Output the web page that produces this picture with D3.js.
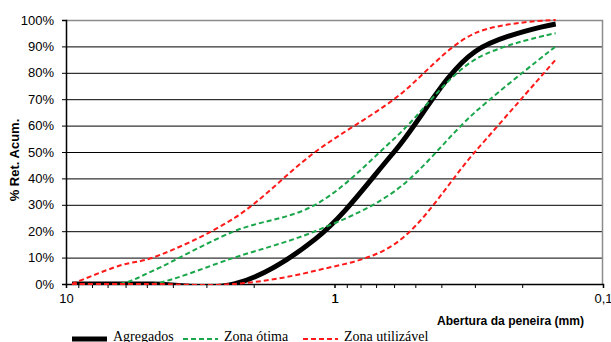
<!DOCTYPE html>
<html>
<head>
<meta charset="utf-8">
<script src="https://cdn.jsdelivr.net/npm/d3@7"></script>
<style>
  body { margin: 0; background: #fff; }
</style>
</head>
<body>
<div id="chart"></div>
<script>
// sieve openings (mm)
const sieves = [9.5, 6.3, 4.75, 2.36, 1.18, 0.6, 0.3, 0.15];

const agregados = [0, 0, 0, 0, 17, 50, 88, 98.5];
const otimaInferior = [0, 0, 0, 10, 20, 35, 65, 90];
const otimaSuperior = [0, 0, 5, 20, 30, 55, 85, 95];
const utilizavelInferior = [0, 0, 0, 0, 5, 15, 50, 85];
const utilizavelSuperior = [0, 7, 10, 25, 50, 70, 95, 100];

const yTicks = [0, 10, 20, 30, 40, 50, 60, 70, 80, 90, 100];
const xTickLabels = [10, 1, 0.1];

const width = 611;
const height = 342;

const svg = d3.select("#chart").append("svg")
    .attr("width", width)
    .attr("height", height)
    .style("font-family", "'Liberation Sans', Arial, sans-serif");

const x = d3.scaleLog().domain([10, 0.1]).range([66, 603]);
const y = d3.scaleLinear().domain([0, 100]).range([284, 20]);

// horizontal grid
svg.append("g")
    .selectAll("line")
    .data(yTicks.slice(1, -1))
    .join("line")
    .attr("x1", x(10))
    .attr("x2", x(0.1))
    .attr("y1", d => y(d) + 0.5)
    .attr("y2", d => y(d) + 0.5)
    .attr("stroke", "#000")
    .attr("stroke-width", 1);

// top and right border
svg.append("path")
    .attr("d", `M${x(10)},${y(100) + 0.5}H${x(0.1) - 0.5}V${y(0)}`)
    .attr("fill", "none")
    .attr("stroke", "#8c8c8c")
    .attr("stroke-width", 1.5);

// y axis
const yAxis = d3.axisLeft(y)
    .tickValues(yTicks)
    .tickSize(4)
    .tickFormat(d => d + "%");

svg.append("g")
    .attr("transform", `translate(${x(10)},0)`)
    .call(yAxis)
    .call(g => g.select(".domain").attr("stroke", "#000").attr("stroke-width", 1.5))
    .call(g => g.selectAll(".tick line").attr("stroke", "#000"))
    .call(g => g.selectAll(".tick text")
        .attr("x", -12)
        .attr("font-size", 13)
        .attr("fill", "#000")
        .style("font-family", "'Liberation Sans', Arial, sans-serif"));

// x axis with minor log ticks
const minorTicks = [];
[0.1, 1].forEach(dec => {
    for (let i = 1; i <= 10; i++) minorTicks.push(+(dec * i).toFixed(3));
});

const xAxis = d3.axisBottom(x)
    .tickValues(minorTicks)
    .tickSize(4)
    .tickFormat(d => xTickLabels.includes(d) ? String(d).replace(".", ",") : "");

svg.append("g")
    .attr("transform", `translate(0,${y(0)})`)
    .call(xAxis)
    .call(g => g.select(".domain").attr("stroke", "#000").attr("stroke-width", 1.5))
    .call(g => g.selectAll(".tick line").attr("stroke", "#000"))
    .call(g => g.selectAll(".tick text")
        .attr("y", 10)
        .attr("font-size", 13)
        .attr("fill", "#000")
        .style("font-family", "'Liberation Sans', Arial, sans-serif"));

// axis titles
svg.append("text")
    .attr("transform", `translate(19,160) rotate(-90)`)
    .attr("text-anchor", "middle")
    .attr("font-size", 13)
    .attr("font-weight", "bold")
    .text("% Ret. Acum.");

svg.append("text")
    .attr("x", 437)
    .attr("y", 325)
    .attr("font-size", 13.5)
    .attr("font-weight", "bold")
    .attr("textLength", 147)
    .attr("lengthAdjust", "spacingAndGlyphs")
    .text("Abertura da peneira (mm)");

// curves
svg.append("clipPath")
    .attr("id", "plot-clip")
    .append("rect")
    .attr("x", x(10))
    .attr("y", y(100) - 4)
    .attr("width", x(0.1) - x(10))
    .attr("height", y(0) - y(100) + 5);

const line = d3.line()
    .x(d => x(d[0]))
    .y(d => y(d[1]))
    .curve(d3.curveCatmullRom.alpha(0.5));

const series = [
    { values: agregados, color: "#000", width: 5, dash: null },
    { values: otimaInferior, color: "#1aa64a", width: 2, dash: "5,3" },
    { values: otimaSuperior, color: "#1aa64a", width: 2, dash: "5,3" },
    { values: utilizavelInferior, color: "#ff1a1a", width: 2, dash: "5,3" },
    { values: utilizavelSuperior, color: "#ff1a1a", width: 2, dash: "5,3" }
];

const curves = svg.append("g").attr("clip-path", "url(#plot-clip)");

series.forEach(s => {
    curves.append("path")
        .datum(sieves.map((d, i) => [d, s.values[i]]))
        .attr("d", line)
        .attr("fill", "none")
        .attr("stroke", s.color)
        .attr("stroke-width", s.width)
        .attr("stroke-dasharray", s.dash);
});

// legend
const legendItems = [
    { label: "Agregados", color: "#000", width: 5, dash: null, x: 72 },
    { label: "Zona ótima", color: "#1aa64a", width: 2, dash: "5,3", x: 183 },
    { label: "Zona utilizável", color: "#ff1a1a", width: 2, dash: "5,3", x: 303 }
];

const legend = svg.append("g");

legendItems.forEach(item => {
    legend.append("line")
        .attr("x1", item.x)
        .attr("x2", item.x + 35)
        .attr("y1", 339)
        .attr("y2", 339)
        .attr("stroke", item.color)
        .attr("stroke-width", item.width)
        .attr("stroke-dasharray", item.dash);

    legend.append("text")
        .attr("x", item.x + 41)
        .attr("y", 341)
        .attr("font-size", 14)
        .style("font-family", "'Liberation Serif', 'Times New Roman', serif")
        .text(item.label);
});
</script>
</body>
</html>
